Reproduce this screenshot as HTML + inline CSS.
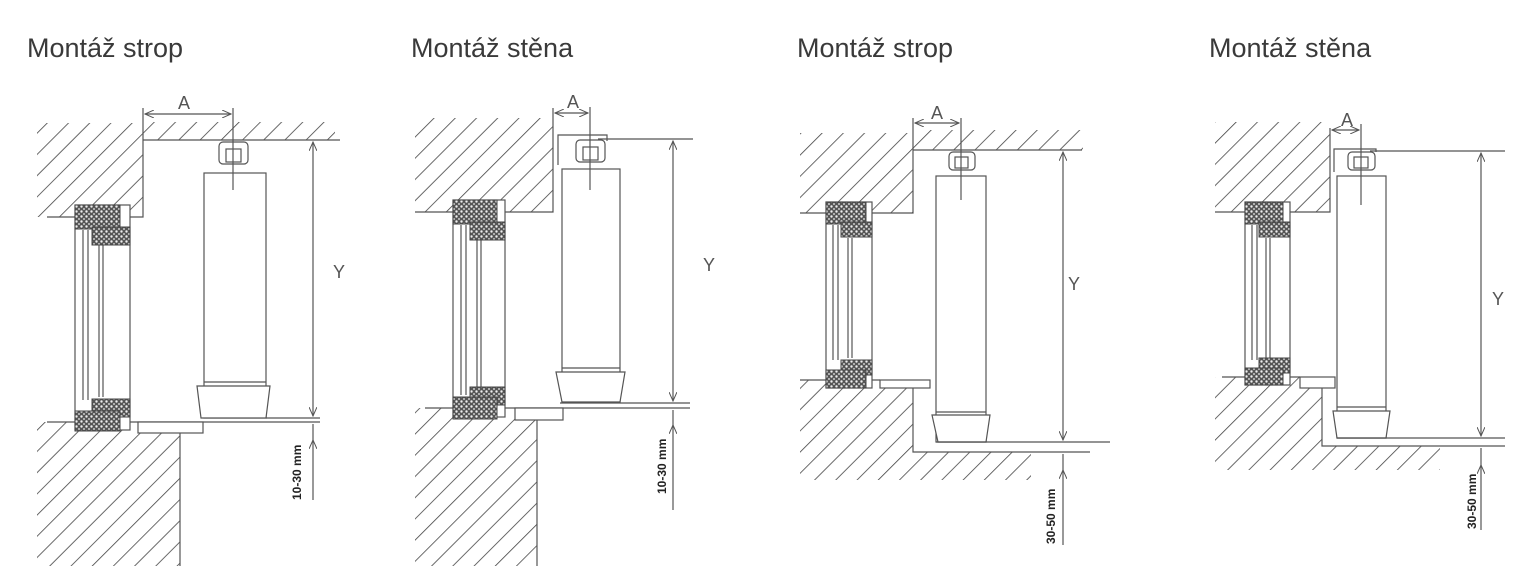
<!DOCTYPE html>
<html><head><meta charset="utf-8"><style>
html,body{margin:0;padding:0;background:#fff;width:1534px;height:566px;overflow:hidden}
svg{display:block}
.t{font-family:"Liberation Sans",sans-serif;font-size:27px;fill:#3a3a3a}
.l{stroke:#555;stroke-width:1.2;fill:none}
.w{stroke:#555;stroke-width:1.2;fill:#fff}
.s{fill:url(#sp);stroke:#444;stroke-width:1}
.h{fill:url(#hat)}
.d{font-family:"Liberation Sans",sans-serif;font-size:12px;fill:#222;font-weight:bold}
.y{font-family:"Liberation Sans",sans-serif;font-size:18px;fill:#555}
</style></head><body>
<svg width="1534" height="566" viewBox="0 0 1534 566" xmlns="http://www.w3.org/2000/svg">
<defs>
<pattern id="hat" width="15" height="15" patternUnits="userSpaceOnUse" patternTransform="rotate(45)">
<line x1="0" y1="0" x2="0" y2="15" stroke="#444" stroke-width="1.6"/></pattern>
<pattern id="sp" width="5" height="5" patternUnits="userSpaceOnUse">
<rect width="5" height="5" fill="#555"/><circle cx="1.5" cy="1.5" r="1.2" fill="#eee"/><circle cx="4" cy="4" r="1" fill="#ccc"/></pattern>
<marker id="ar" markerWidth="10" markerHeight="8" refX="9" refY="4" orient="auto-start-reverse" markerUnits="userSpaceOnUse">
<path d="M0,0 L9,4 L0,8" fill="none" stroke="#555" stroke-width="1"/></marker>
</defs>
<text class="t" x="27" y="57">Montáž strop</text>
<text class="t" x="411" y="57">Montáž stěna</text>
<text class="t" x="797" y="57">Montáž strop</text>
<text class="t" x="1209" y="57">Montáž stěna</text>

<!-- Diagram 1 -->
<g>
<rect class="h" x="37" y="123" width="106" height="94"/>
<rect class="h" x="143" y="122" width="192" height="18"/>
<rect class="h" x="37" y="422" width="143" height="144"/>
<polyline class="l" points="143,108 143,217 47,217"/>
<line class="l" x1="143" y1="140" x2="340" y2="140"/>
<line class="l" x1="47" y1="422" x2="320" y2="422"/>
<line class="l" x1="180" y1="433" x2="180" y2="566"/>
<rect class="w" x="138" y="422" width="65" height="11"/>
<rect class="w" x="75" y="205" width="55" height="225"/>
<line class="l" x1="83" y1="230" x2="83" y2="400"/><line class="l" x1="88" y1="230" x2="88" y2="400"/>
<line class="l" x1="99" y1="245" x2="99" y2="397"/><line class="l" x1="103" y1="245" x2="103" y2="397"/>
<rect class="s" x="75" y="205" width="45" height="24"/><rect class="s" x="92" y="227" width="38" height="18"/>
<rect class="s" x="92" y="399" width="38" height="18"/><rect class="s" x="75" y="411" width="45" height="20"/>
<rect class="w" x="204" y="173" width="62" height="245"/>
<line class="l" x1="204" y1="382" x2="266" y2="382"/>
<polygon class="w" points="197,386 270,386 266,418 201,418"/>
<line class="l" x1="266" y1="418" x2="320" y2="418"/>
<rect class="w" x="219" y="142" width="29" height="22" rx="4"/><rect class="l" x="226" y="149" width="15" height="13"/>
<line class="l" x1="233" y1="108" x2="233" y2="190"/>
<line class="l" x1="145" y1="114" x2="231" y2="114" marker-start="url(#ar)" marker-end="url(#ar)"/>
<text class="y" x="178" y="109">A</text>
<line class="l" x1="313" y1="142" x2="313" y2="416" marker-start="url(#ar)" marker-end="url(#ar)"/>
<line class="l" x1="313" y1="440" x2="313" y2="500" marker-start="url(#ar)"/>
<line class="l" x1="313" y1="440" x2="313" y2="424"/>
<text class="y" x="333" y="278">Y</text>
<text class="d" transform="translate(301,500) rotate(-90)">10-30 mm</text>
</g>

<!-- Diagram 2 -->
<g>
<rect class="h" x="415" y="118" width="138" height="94"/>
<rect class="h" x="415" y="408" width="122" height="158"/>
<polyline class="l" points="553,108 553,212 415,212"/>
<polyline class="l" points="558,165 558,135 607,135 607,141"/>
<line class="l" x1="598" y1="139" x2="693" y2="139"/>
<line class="l" x1="425" y1="408" x2="690" y2="408"/>
<line class="l" x1="537" y1="420" x2="537" y2="566"/>
<rect class="w" x="515" y="408" width="48" height="12"/>
<rect class="w" x="453" y="200" width="52" height="217"/>
<line class="l" x1="461" y1="225" x2="461" y2="395"/><line class="l" x1="466" y1="225" x2="466" y2="395"/>
<line class="l" x1="477" y1="240" x2="477" y2="390"/><line class="l" x1="481" y1="240" x2="481" y2="390"/>
<rect class="s" x="453" y="200" width="44" height="24"/><rect class="s" x="470" y="222" width="35" height="18"/>
<rect class="s" x="470" y="387" width="35" height="18"/><rect class="s" x="453" y="397" width="44" height="22"/>
<rect class="w" x="562" y="169" width="58" height="233"/>
<line class="l" x1="562" y1="368" x2="620" y2="368"/>
<polygon class="w" points="556,372 625,372 620,402 562,402"/>
<line class="l" x1="560" y1="403" x2="690" y2="403"/>
<rect class="w" x="576" y="140" width="29" height="22" rx="4"/><rect class="l" x="583" y="147" width="15" height="13"/>
<line class="l" x1="590" y1="107" x2="590" y2="190"/>
<line class="l" x1="555" y1="113" x2="588" y2="113" marker-start="url(#ar)" marker-end="url(#ar)"/>
<text class="y" x="567" y="108">A</text>
<line class="l" x1="673" y1="141" x2="673" y2="401" marker-start="url(#ar)" marker-end="url(#ar)"/>
<line class="l" x1="673" y1="425" x2="673" y2="510" marker-start="url(#ar)"/>
<line class="l" x1="673" y1="425" x2="673" y2="410"/>
<text class="y" x="703" y="271">Y</text>
<text class="d" transform="translate(666,494) rotate(-90)">10-30 mm</text>
</g>

<!-- Diagram 3 -->
<g>
<rect class="h" x="800" y="133" width="113" height="80"/>
<rect class="h" x="913" y="130" width="170" height="20"/>
<polyline class="l" points="913,118 913,213 800,213"/>
<line class="l" x1="913" y1="150" x2="1082" y2="150"/>
<rect class="h" x="800" y="380" width="113" height="100"/>
<rect class="h" x="913" y="452" width="118" height="28"/>
<line class="l" x1="800" y1="380" x2="880" y2="380"/>
<polyline class="l" points="913,388 913,452 1090,452"/>
<rect class="w" x="880" y="380" width="50" height="8"/>
<rect class="w" x="826" y="202" width="46" height="186"/>
<line class="l" x1="833" y1="225" x2="833" y2="360"/><line class="l" x1="838" y1="225" x2="838" y2="360"/>
<line class="l" x1="848" y1="238" x2="848" y2="358"/><line class="l" x1="852" y1="238" x2="852" y2="358"/>
<rect class="s" x="826" y="202" width="40" height="22"/><rect class="s" x="841" y="222" width="31" height="15"/>
<rect class="s" x="841" y="360" width="31" height="15"/><rect class="s" x="826" y="370" width="40" height="18"/>
<rect class="w" x="936" y="176" width="50" height="266"/>
<line class="l" x1="936" y1="412" x2="986" y2="412"/>
<polygon class="w" points="932,415 990,415 986,442 938,442"/>
<line class="l" x1="936" y1="442" x2="1110" y2="442"/>
<rect class="w" x="949" y="152" width="26" height="18" rx="4"/><rect class="l" x="955" y="157" width="13" height="11"/>
<line class="l" x1="961" y1="118" x2="961" y2="200"/>
<line class="l" x1="915" y1="123" x2="959" y2="123" marker-start="url(#ar)" marker-end="url(#ar)"/>
<text class="y" x="931" y="119">A</text>
<line class="l" x1="1063" y1="152" x2="1063" y2="440" marker-start="url(#ar)" marker-end="url(#ar)"/>
<line class="l" x1="1063" y1="470" x2="1063" y2="545" marker-start="url(#ar)"/>
<line class="l" x1="1063" y1="470" x2="1063" y2="454"/>
<text class="y" x="1068" y="290">Y</text>
<text class="d" transform="translate(1055,544) rotate(-90)">30-50 mm</text>
</g>

<!-- Diagram 4 -->
<g>
<rect class="h" x="1215" y="122" width="115" height="90"/>
<polyline class="l" points="1330,128 1330,212 1215,212"/>
<polyline class="l" points="1334,172 1334,149 1376,149 1376,152"/>
<line class="l" x1="1370" y1="151" x2="1505" y2="151"/>
<rect class="h" x="1215" y="377" width="107" height="93"/>
<rect class="h" x="1322" y="446" width="118" height="24"/>
<line class="l" x1="1222" y1="377" x2="1300" y2="377"/>
<polyline class="l" points="1322,388 1322,446 1505,446"/>
<rect class="w" x="1300" y="377" width="35" height="11"/>
<rect class="w" x="1245" y="202" width="45" height="183"/>
<line class="l" x1="1252" y1="225" x2="1252" y2="360"/><line class="l" x1="1257" y1="225" x2="1257" y2="360"/>
<line class="l" x1="1266" y1="238" x2="1266" y2="358"/><line class="l" x1="1270" y1="238" x2="1270" y2="358"/>
<rect class="s" x="1245" y="202" width="38" height="22"/><rect class="s" x="1259" y="222" width="31" height="15"/>
<rect class="s" x="1259" y="358" width="31" height="15"/><rect class="s" x="1245" y="368" width="38" height="17"/>
<rect class="w" x="1337" y="176" width="49" height="262"/>
<line class="l" x1="1337" y1="407" x2="1386" y2="407"/>
<polygon class="w" points="1333,411 1390,411 1386,438 1337,438"/>
<line class="l" x1="1337" y1="438" x2="1505" y2="438"/>
<rect class="w" x="1348" y="152" width="27" height="18" rx="4"/><rect class="l" x="1354" y="157" width="14" height="11"/>
<line class="l" x1="1361" y1="124" x2="1361" y2="205"/>
<line class="l" x1="1332" y1="130" x2="1359" y2="130" marker-start="url(#ar)" marker-end="url(#ar)"/>
<text class="y" x="1341" y="126">A</text>
<line class="l" x1="1481" y1="153" x2="1481" y2="436" marker-start="url(#ar)" marker-end="url(#ar)"/>
<line class="l" x1="1481" y1="465" x2="1481" y2="530" marker-start="url(#ar)"/>
<line class="l" x1="1481" y1="465" x2="1481" y2="448"/>
<text class="y" x="1492" y="305">Y</text>
<text class="d" transform="translate(1476,529) rotate(-90)">30-50 mm</text>
</g>
</svg>
</body></html>
